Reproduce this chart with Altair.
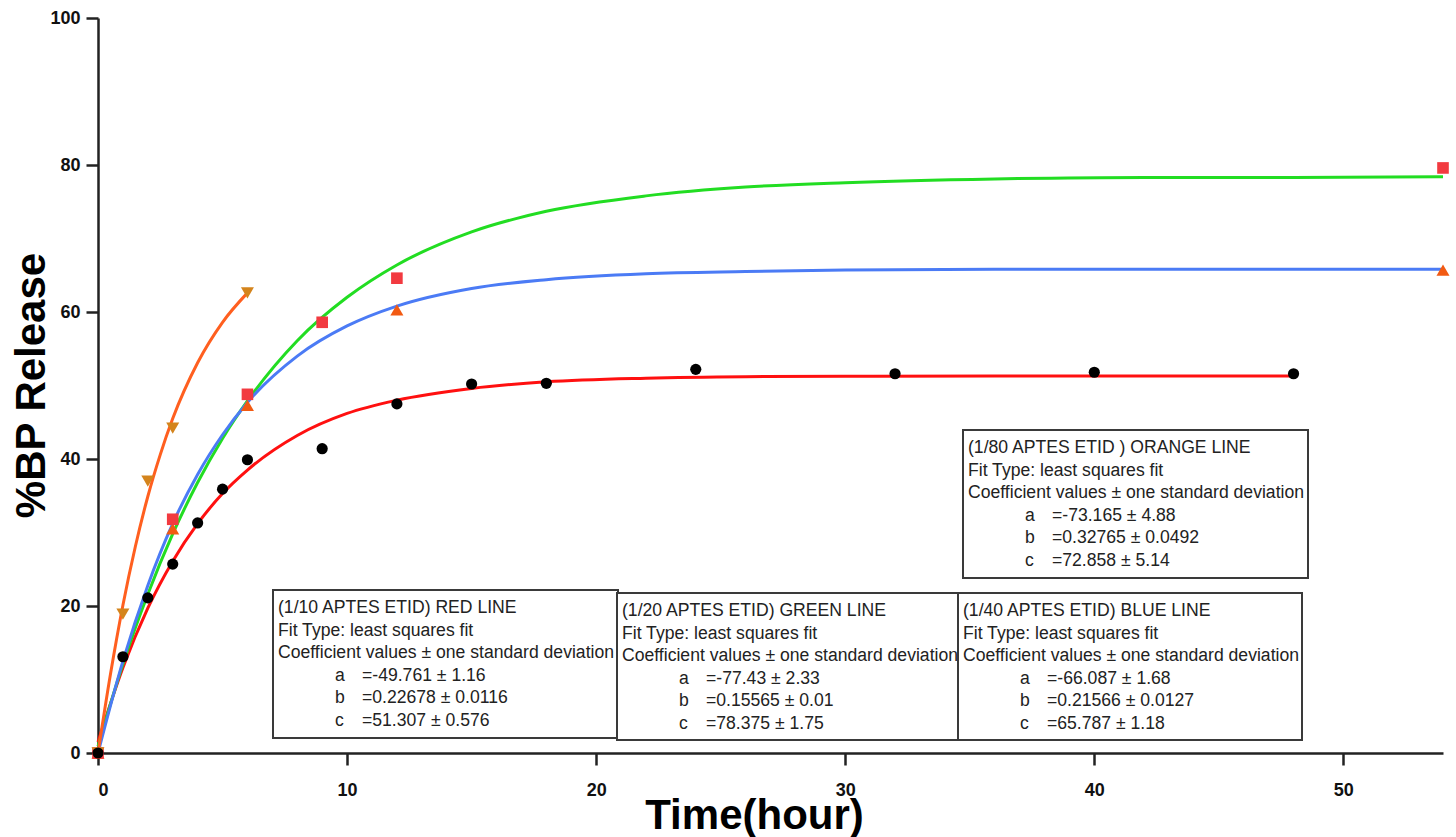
import altair as alt
import pandas as pd

# ---------------- data ----------------
# measured release points
t_110 = [0, 1, 2, 3, 4, 5, 6, 9, 12, 15, 18, 24, 32, 40, 48]
y_110 = [0, 13.1, 21.1, 25.7, 31.3, 35.9, 39.9, 41.4, 47.5, 50.2, 50.3, 52.2, 51.6, 51.8, 51.6]

t_120 = [0, 3, 6, 9, 12, 54]
y_120 = [0, 31.8, 48.8, 58.6, 64.6, 79.6]

t_140 = [0, 3, 6, 12, 54]
y_140 = [0, 30.5, 47.3, 60.3, 65.7]

t_180 = [0, 1, 2, 3, 6]
y_180 = [0, 18.9, 37.0, 44.2, 62.6]

# fitted curves
fx_red = [0, 1, 2, 3, 4, 5, 6, 8, 10, 12, 15, 18, 22, 26, 30, 36, 42, 48]
fy_red = [1.5, 11.6, 19.7, 26.1, 31.2, 35.3, 38.5, 43.2, 46.2, 48.0, 49.6, 50.5, 51.0, 51.2, 51.25, 51.3, 51.3, 51.3]

fx_green = [0, 1, 2, 3, 4, 5, 6, 8, 10, 12, 15, 18, 22, 26, 30, 36, 42, 48, 54]
fy_green = [0.9, 12.1, 21.6, 29.8, 36.8, 42.8, 47.9, 56.1, 62.0, 66.4, 70.9, 73.7, 75.8, 77.0, 77.6, 78.1, 78.3, 78.3, 78.4]

fx_blue = [0, 1, 2, 3, 4, 5, 6, 8, 10, 12, 15, 18, 22, 26, 30, 36, 42, 48, 54]
fy_blue = [0, 12.5, 22.8, 31.2, 37.9, 43.3, 47.7, 54.0, 58.1, 60.8, 63.2, 64.4, 65.2, 65.5, 65.7, 65.8, 65.8, 65.8, 65.8]

fx_orange = [0, 0.5, 1, 1.5, 2, 2.5, 3, 4, 5, 6]
fy_orange = [0, 10.7, 20.1, 28.1, 34.9, 40.6, 45.5, 53.1, 58.6, 62.6]

x_ticks = [0, 10, 20, 30, 40, 50]
y_ticks = [0, 20, 40, 60, 80, 100]

box_titles = ["(1/10 APTES ETID) RED LINE", "(1/20 APTES ETID) GREEN LINE",
              "(1/40 APTES ETID) BLUE LINE", "(1/80 APTES ETID ) ORANGE LINE"]
coef_a = ["=-49.761 \u00b1 1.16", "=-77.43 \u00b1 2.33", "=-66.087 \u00b1 1.68", "=-73.165 \u00b1 4.88"]
coef_b = ["=0.22678 \u00b1 0.0116", "=0.15565 \u00b1 0.01", "=0.21566 \u00b1 0.0127", "=0.32765 \u00b1 0.0492"]
coef_c = ["=51.307 \u00b1 0.576", "=78.375 \u00b1 1.75", "=65.787 \u00b1 1.18", "=72.858 \u00b1 5.14"]
fit_line = "Fit Type: least squares fit"
coef_line = "Coefficient values \u00b1 one standard deviation"

# ---------------- layout (pixels, plot-area relative) ----------------
W, H = 1345, 735
box_rects = [(175, 520, 572, 720), (519, 860, 575, 722), (860, 1204, 575, 722), (865, 1210, 412, 560)]
ROW0, ROWSTEP = 18, 22.5
COL_TXT, COL_LET, COL_EQ = 5, 62, 89

FONT = "Liberation Sans"

xs = alt.Scale(domain=[0, 54], nice=False, zero=False)
ys = alt.Scale(domain=[0, 100], nice=False)

# ---------------- curves ----------------
curve_rows = []
for name, fx, fy in [("red", fx_red, fy_red), ("green", fx_green, fy_green),
                     ("blue", fx_blue, fy_blue), ("orange", fx_orange, fy_orange)]:
    for a, b in zip(fx, fy):
        curve_rows.append({"series": name, "t": a, "y": b})
curves_df = pd.DataFrame(curve_rows)

base_x = alt.X("t:Q", scale=xs,
               axis=alt.Axis(values=x_ticks, title="Time(hour)", grid=False,
                             titleFontSize=42, titleFont=FONT, titleFontWeight="bold",
                             titleColor="#000", titleX=656, titleAlign="center",
                             titleY=75, titleBaseline="alphabetic",
                             labelFont=FONT, labelFontSize=18, labelFontWeight="bold",
                             labelColor="#111", labelPadding=16, tickSize=12, tickWidth=2.5,
                             tickColor="#222", domainColor="#222", domainWidth=2.5))
base_y = alt.Y("y:Q", scale=ys,
               axis=alt.Axis(values=y_ticks, title="%BP Release", grid=False,
                             titleFontSize=42, titleFont=FONT, titleFontWeight="bold",
                             titleColor="#000", titleAngle=270, titleX=-54, titleY=367,
                             titleBaseline="alphabetic", titleAlign="center",
                             labelFont=FONT, labelFontSize=18, labelFontWeight="bold",
                             labelColor="#111", labelPadding=6, tickSize=12, tickWidth=2.5,
                             tickColor="#222", domainColor="#222", domainWidth=2.5))

line_colors = alt.Scale(domain=["red", "green", "blue", "orange"],
                        range=["#FF1010", "#22DD22", "#4B7BF5", "#FF5F1F"])

curves = alt.Chart(curves_df).mark_line(strokeWidth=3, interpolate="monotone").encode(
    x=base_x, y=base_y,
    color=alt.Color("series:N", scale=line_colors, legend=None),
    detail="series:N",
)

def pts(t, y, shape, color, size):
    df = pd.DataFrame({"t": t, "y": y})
    return alt.Chart(df).mark_point(shape=shape, filled=True, color=color, size=size,
                                    opacity=1, clip=False).encode(
        x=alt.X("t:Q", scale=xs), y=alt.Y("y:Q", scale=ys))

p140 = pts(t_140, y_140, "triangle-up", "#F25A12", 170)
p120 = pts(t_120, y_120, "square", "#F23A40", 135)
p180 = pts(t_180, y_180, "triangle-down", "#D4841C", 170)
p110 = pts(t_110, y_110, "circle", "#000000", 125)

# ---------------- annotation boxes ----------------
layers = [curves, p140, p120, p180, p110]
for i, (x0, x1, y0, y1) in enumerate(box_rects):
    rect_df = pd.DataFrame({"x0": [x0], "x1": [x1], "y0": [y0], "y1": [y1]})
    rect = alt.Chart(rect_df).mark_rect(fill="white", stroke="#3a3a3a", strokeWidth=2).encode(
        x=alt.X("x0:Q", scale=None), x2="x1:Q",
        y=alt.Y("y0:Q", scale=None), y2="y1:Q")
    rows = [
        (COL_TXT, 0, box_titles[i]),
        (COL_TXT, 1, fit_line),
        (COL_TXT, 2, coef_line),
        (COL_LET, 3, "a"), (COL_EQ, 3, coef_a[i]),
        (COL_LET, 4, "b"), (COL_EQ, 4, coef_b[i]),
        (COL_LET, 5, "c"), (COL_EQ, 5, coef_c[i]),
    ]
    txt_df = pd.DataFrame({
        "px": [x0 + c for c, r, s in rows],
        "py": [y0 + ROW0 + r * ROWSTEP for c, r, s in rows],
        "label": [s for c, r, s in rows],
    })
    txt = alt.Chart(txt_df).mark_text(align="left", baseline="middle", font=FONT,
                                      fontSize=17.6, color="#222").encode(
        x=alt.X("px:Q", scale=None), y=alt.Y("py:Q", scale=None), text="label:N")
    layers += [rect, txt]

chart = alt.layer(*layers).properties(
    width=W, height=H,
    autosize=alt.AutoSizeParams(type="none"),
    padding={"left": 98, "top": 18, "right": 13, "bottom": 84},
    background="white",
).configure_view(stroke=None)

chart.save("out.html", embed_options={"renderer": "svg", "actions": False})
